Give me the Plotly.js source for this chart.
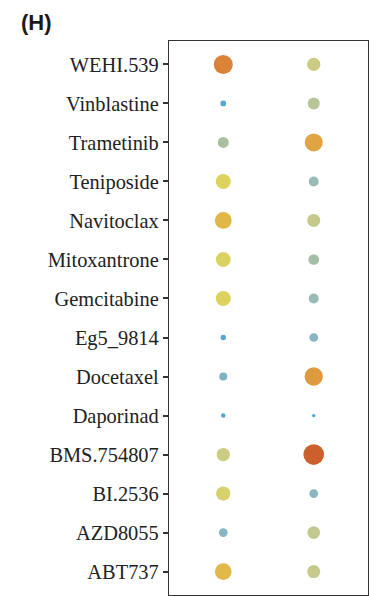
<!DOCTYPE html>
<html>
<head>
<meta charset="utf-8">
<script src="https://cdn.plot.ly/plotly-3.0.1.min.js"></script>
<style>html,body{margin:0;padding:0;background:#fff;}#chart{width:382px;height:596px;}</style>
</head>
<body>
<div id="chart"></div>
<script>
// Drugs, bottom to top
const drugs = ["ABT737","AZD8055","BI.2536","BMS.754807","Daporinad","Docetaxel","Eg5_9814",
  "Gemcitabine","Mitoxantrone","Navitoclax","Teniposide","Trametinib","Vinblastine","WEHI.539"];
const groups = ["G1","G2"];
// Estimated score per drug (same order as drugs) for each group
const scoreG1 = [16.7, 8.7, 14.3, 13.3, 4.4, 8.0, 5.3, 15.0, 14.8, 16.8, 15.0, 11.0, 5.8, 19.0];
const scoreG2 = [13.0, 12.7, 8.7, 20.7, 3.2, 18.3, 8.7, 10.0, 10.7, 13.0, 10.0, 18.0, 12.0, 13.3];

const cmin = 3, cmax = 21;
const stops = [
  [3, "#4aa3d8"], [6, "#55a9d5"], [8, "#7db2c4"], [9, "#8cb6bf"], [10, "#98bcb5"],
  [11, "#a8c09e"], [12, "#b8c596"], [13, "#c7c98a"], [14, "#d4d070"], [15, "#dcd35e"],
  [16.7, "#e2b84a"], [18, "#e0a542"], [19, "#d98238"], [20.7, "#cc602c"], [21, "#c85a2a"]
];
const colorscale = stops.map(s => [(s[0] - cmin) / (cmax - cmin), s[1]]);

const x = [], y = [], v = [];
drugs.forEach((d, i) => {
  x.push(groups[0]); y.push(d); v.push(scoreG1[i]);
  x.push(groups[1]); y.push(d); v.push(scoreG2[i]);
});

const trace = {
  type: "scatter", mode: "markers", x: x, y: y,
  marker: { size: v, sizemode: "diameter", color: v, cmin: cmin, cmax: cmax,
    colorscale: colorscale, showscale: false, opacity: 1, line: { width: 0 } },
  hoverinfo: "x+y", cliponaxis: false
};

const layout = {
  width: 382, height: 596,
  margin: { l: 169, r: 14, t: 41, b: 1, pad: 0 },
  paper_bgcolor: "#ffffff", plot_bgcolor: "#ffffff",
  showlegend: false,
  title: { text: "<b>(H)</b>", x: 21 / 382, xanchor: "left", xref: "container",
    y: 1 - 22 / 596, yanchor: "middle", yref: "container",
    font: { family: "Liberation Sans, Arial, sans-serif", size: 22, color: "#1a1a1a" } },
  xaxis: { type: "category", categoryarray: groups, range: [-0.6, 1.6],
    showticklabels: false, ticks: "", showgrid: false, zeroline: false,
    showline: true, mirror: true, linecolor: "#333333", linewidth: 1.2 },
  yaxis: { type: "category", categoryarray: drugs, range: [-0.6, 13.6],
    showgrid: false, zeroline: false, showline: true, mirror: true,
    linecolor: "#333333", linewidth: 1.2,
    ticks: "outside", ticklen: 5, tickwidth: 2, tickcolor: "#333333",
    tickfont: { family: "Liberation Serif, Times New Roman, serif", size: 20.4, color: "#222222" } },
  font: { family: "Liberation Serif, serif" }
};

Plotly.newPlot("chart", [trace], layout, { displayModeBar: false, staticPlot: true });
</script>
</body>
</html>
